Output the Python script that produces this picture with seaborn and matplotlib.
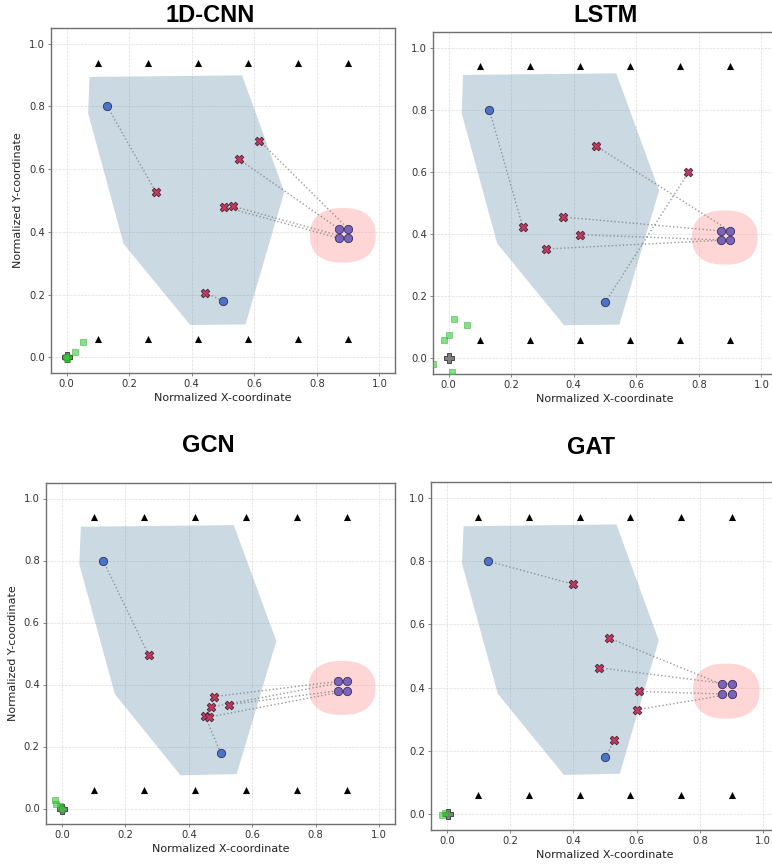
import numpy as np
import pandas as pd
import matplotlib
import matplotlib.pyplot as plt
import seaborn as sns
plt.switch_backend('agg')

# panel order: top-left, top-right, bottom-left, bottom-right
models = ["1D-CNN", "LSTM", "GCN", "GAT"]

# reference anchors (black triangles)
anchor_x = [0.10, 0.26, 0.42, 0.58, 0.74, 0.90]
anchor_y = [0.06, 0.94]

# start points (blue) and goal cluster (purple)
source_x = [0.13, 0.50]
source_y = [0.80, 0.18]
target_x = [0.87, 0.90, 0.87, 0.90]
target_y = [0.41, 0.41, 0.38, 0.38]

# predictions (red X): first two belong to the sources, the rest to targets
pred_x = [
    [0.285, 0.444, 0.616, 0.552, 0.503, 0.531],
    [0.237, 0.767, 0.470, 0.366, 0.421, 0.310],
    [0.274, 0.451, 0.480, 0.470, 0.528, 0.464],
    [0.399, 0.530, 0.512, 0.481, 0.607, 0.601],
]
pred_y = [
    [0.527, 0.206, 0.691, 0.631, 0.480, 0.482],
    [0.423, 0.599, 0.684, 0.455, 0.398, 0.352],
    [0.494, 0.300, 0.361, 0.327, 0.335, 0.295],
    [0.727, 0.233, 0.557, 0.463, 0.388, 0.330],
]
pred_target = [
    [1, 0, 2, 3],
    [1, 0, 3, 2],
    [0, 1, 2, 3],
    [0, 1, 2, 3],
]

# shaded region of the predictions
hull_x = [
    [0.073, 0.561, 0.696, 0.572, 0.395, 0.182, 0.069],
    [0.046, 0.536, 0.673, 0.546, 0.369, 0.155, 0.042],
    [0.060, 0.542, 0.676, 0.551, 0.374, 0.167, 0.055],
    [0.053, 0.536, 0.670, 0.547, 0.370, 0.161, 0.048],
]
hull_y = [
    [0.894, 0.899, 0.527, 0.105, 0.103, 0.362, 0.777],
    [0.912, 0.917, 0.540, 0.109, 0.107, 0.370, 0.788],
    [0.909, 0.914, 0.540, 0.111, 0.107, 0.369, 0.788],
    [0.910, 0.916, 0.549, 0.128, 0.124, 0.381, 0.792],
]

# goal zone (pink): centre and half extents
zone_center = [0.883, 0.389]
zone_half = [0.105, 0.087]

# collapsed outputs near the origin (green squares) and origin marker
noise_x = [
    [0.028, 0.051, 0.002, 0.000, -0.002],
    [0.018, 0.060, 0.002, -0.015, 0.011, -0.049],
    [-0.021, -0.019, -0.006, 0.002],
    [-0.014, -0.005],
]
noise_y = [
    [0.016, 0.049, -0.004, 0.000, 0.002],
    [0.128, 0.107, 0.074, 0.060, -0.043, -0.019],
    [0.026, 0.013, 0.008, -0.003],
    [-0.002, 0.003],
]
origin_x = [0.0, 0.0, 0.0, 0.005]
origin_y = [0.0, 0.0, 0.0, 0.0]

sns.set_theme(style="whitegrid")
plt.rcParams['font.family'] = ['DejaVu Sans']
plt.rcParams['axes.edgecolor'] = '#707070'
plt.rcParams['axes.linewidth'] = 1.0
plt.rcParams['grid.color'] = '#dcdcdc'
plt.rcParams['grid.linestyle'] = '--'
plt.rcParams['grid.linewidth'] = 0.5

fig = plt.figure(figsize=(7.72, 8.64), dpi=100)

W, H = 772.0, 864.0
# axes boxes in pixels: left, top, right, bottom
boxes = [(51, 28, 395, 373), (433, 32, 777, 374), (46, 483, 395, 824), (431, 482, 779, 830)]
title_pos = [(210, 15), (606, 15), (208, 446), (591, 448)]
has_ylabel = [True, False, True, False]


def link(ax, x0, y0, x1, y1):
    ax.plot([x0, x1], [y0, y1], ls=':', color='gray', lw=1.0, alpha=0.8, zorder=2)


def zone_outline(n=2.4):
    # superellipse outline around the goal cluster
    t = np.linspace(0, 2 * np.pi, 200)
    c, s = np.cos(t), np.sin(t)
    zx = zone_center[0] + zone_half[0] * np.sign(c) * np.abs(c) ** (2 / n)
    zy = zone_center[1] + zone_half[1] * np.sign(s) * np.abs(s) ** (2 / n)
    return zx, zy


for i, name in enumerate(models):
    l, t, r, b = boxes[i]
    ax = fig.add_axes([l / W, 1 - b / H, (r - l) / W, (b - t) / H])

    ax.fill(hull_x[i], hull_y[i], color='#5f8ea8', alpha=0.33, lw=0, zorder=1)
    zx, zy = zone_outline()
    ax.fill(zx, zy, color='#ff9a9a', alpha=0.4, lw=0, zorder=1)

    # dotted links
    for k in range(2):
        link(ax, source_x[k], source_y[k], pred_x[i][k], pred_y[i][k])
    for k, tg in enumerate(pred_target[i]):
        link(ax, pred_x[i][k + 2], pred_y[i][k + 2], target_x[tg], target_y[tg])

    ax_df = pd.DataFrame([(x, y) for y in anchor_y for x in anchor_x], columns=['x', 'y'])
    sns.scatterplot(data=ax_df, x='x', y='y', marker='^', color='black', s=26,
                    linewidth=0, ax=ax, zorder=3)

    sns.scatterplot(x=[origin_x[i]], y=[origin_y[i]], marker='P', color='#808080', s=45,
                    edgecolor='#333333', linewidth=0.6, ax=ax, zorder=3)
    sns.scatterplot(x=noise_x[i], y=noise_y[i], marker='s', color='#32cd32', alpha=0.6, s=22,
                    edgecolor='#2a9a2a', linewidth=0.5, ax=ax, zorder=3)

    sns.scatterplot(x=source_x, y=source_y, marker='o', color='#4a74c9', s=36,
                    edgecolor='#333355', linewidth=0.6, ax=ax, zorder=4)
    sns.scatterplot(x=target_x, y=target_y, marker='o', color='#7a63b8', s=36,
                    edgecolor='#3a3060', linewidth=0.6, ax=ax, zorder=4)
    sns.scatterplot(x=pred_x[i], y=pred_y[i], marker='X', color='#c43a5e', s=38,
                    edgecolor='#4a2030', linewidth=0.6, ax=ax, zorder=4)

    ax.set_xlim(-0.05, 1.05)
    ax.set_ylim(-0.05, 1.05)
    ticks = [0.0, 0.2, 0.4, 0.6, 0.8, 1.0]
    ax.set_xticks(ticks)
    ax.set_yticks(ticks)
    ax.tick_params(axis='both', labelsize=7.2, labelcolor='#333333', bottom=True, left=True,
                   length=2.5, width=0.6, pad=2, color='#707070')
    ax.set_xlabel("Normalized X-coordinate", fontsize=8, color='#222222', labelpad=3)
    if has_ylabel[i]:
        ax.set_ylabel("Normalized Y-coordinate", fontsize=8, color='#222222', labelpad=4)
    else:
        ax.set_ylabel("")
    ax.grid(True, zorder=0)
    ax.set_axisbelow(True)

    tx, ty = title_pos[i]
    fig.text(tx / W, 1 - ty / H, name, ha='center', va='center', fontsize=17,
             fontweight='bold', family=['Liberation Sans', 'DejaVu Sans'], color='black')

fig.savefig("out.png", dpi=100)
